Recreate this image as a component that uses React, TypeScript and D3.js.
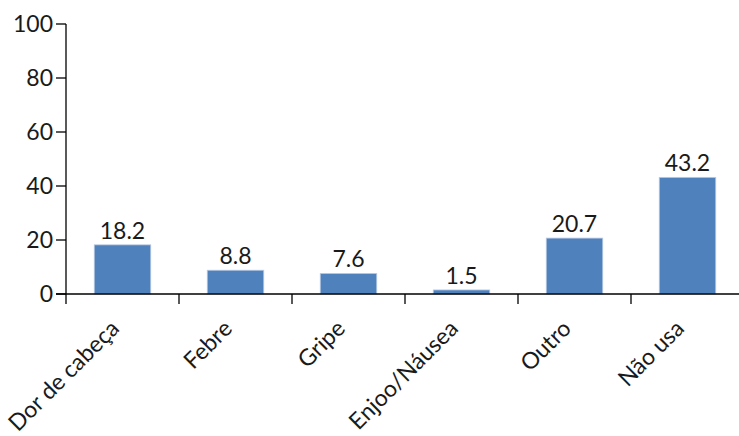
import React from "react";
import * as d3 from "d3";

const categories = ["Dor de cabeça", "Febre", "Gripe", "Enjoo/Náusea", "Outro", "Não usa"];
const values = [18.2, 8.8, 7.6, 1.5, 20.7, 43.2];
const yTicks = [0, 20, 40, 60, 80, 100];

const W = 739;
const H = 436;
const left = 66;
const top = 24;
const bottom = 294;
const bandW = 113;
const font = "Lato, 'Open Sans', sans-serif";

export default function App() {
  const x = d3
    .scaleBand<string>()
    .domain(categories)
    .range([left, left + bandW * categories.length])
    .paddingInner(0.5)
    .paddingOuter(0.25);
  const y = d3.scaleLinear().domain([0, 100]).range([bottom, top]);
  const boundaries = d3.range(categories.length + 1).map((i) => left + i * bandW);

  return (
    <svg
      width={W}
      height={H}
      style={{ position: "absolute", left: 0, top: 0, background: "#fff" }}
      fontFamily={font}
    >
      {categories.map((c, i) => (
        <g key={c}>
          <rect
            x={x(c)}
            y={y(values[i])}
            width={x.bandwidth()}
            height={bottom - y(values[i])}
            fill="#4F81BD"
            stroke="#b8c9e0"
            strokeWidth={0.8}
          />
          <text
            x={(x(c) as number) + x.bandwidth() / 2}
            y={y(values[i]) - 6}
            textAnchor="middle"
            fontSize={23}
            fill="#1a1a1a"
          >
            {values[i].toFixed(1)}
          </text>
          <text
            transform={`translate(${(x(c) as number) + x.bandwidth() / 2 - 2},${bottom + 36}) rotate(-45)`}
            textAnchor="end"
            fontSize={23}
            fill="#1a1a1a"
          >
            {c}
          </text>
        </g>
      ))}
      {/* y axis */}
      <line x1={left} x2={left} y1={top} y2={bottom + 10} stroke="#000" strokeWidth={1.3} />
      {yTicks.map((t) => (
        <g key={t}>
          <line x1={left - 10} x2={left} y1={y(t)} y2={y(t)} stroke="#000" strokeWidth={1.3} />
          <text x={left - 13} y={y(t)} dy="0.36em" textAnchor="end" fontSize={23} fill="#1a1a1a">
            {t}
          </text>
        </g>
      ))}
      {/* x axis */}
      <line x1={left - 10} x2={boundaries[boundaries.length - 1]} y1={bottom} y2={bottom} stroke="#000" strokeWidth={1.3} />
      {boundaries.slice(1).map((b) => (
        <line key={b} x1={b} x2={b} y1={bottom} y2={bottom + 10} stroke="#000" strokeWidth={1.3} />
      ))}
    </svg>
  );
}
